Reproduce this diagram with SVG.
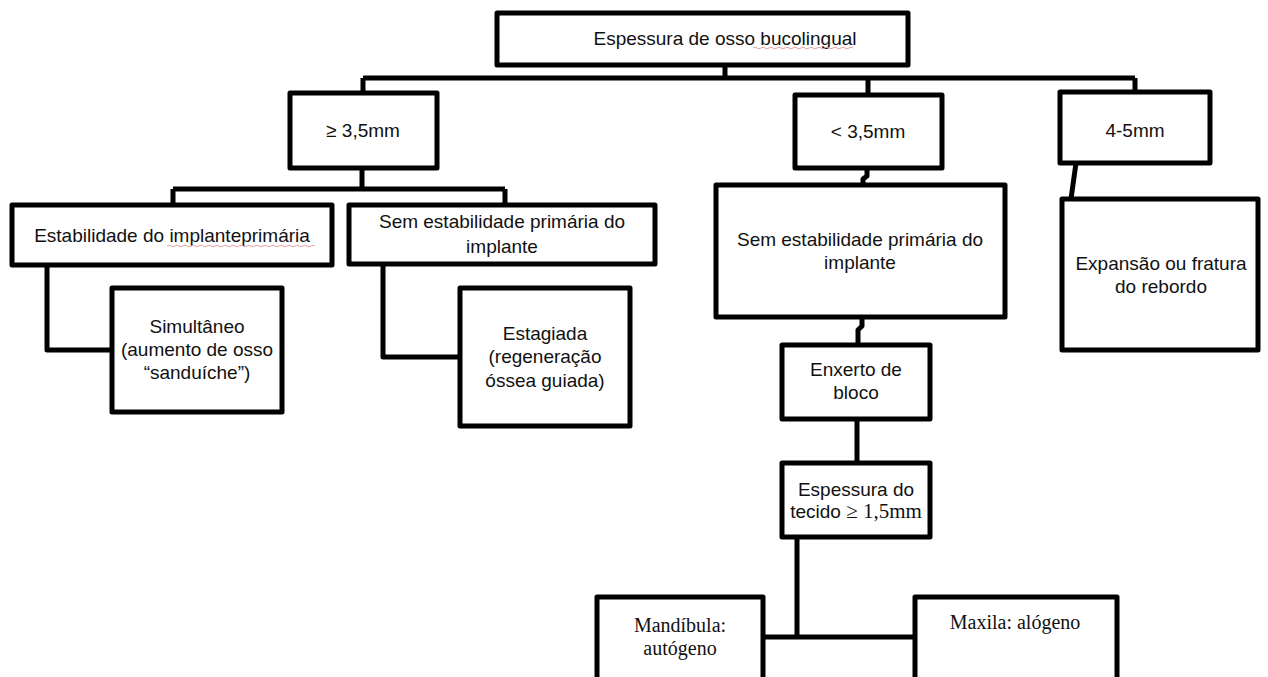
<svg xmlns="http://www.w3.org/2000/svg" width="1268" height="677" viewBox="0 0 1268 677">
<style>
.box{fill:#fff;stroke:#000;stroke-width:5;stroke-linejoin:round}
.ln{fill:none;stroke:#000;stroke-width:5;stroke-linejoin:round}
.t{font-family:"Liberation Sans",Arial,sans-serif;font-size:19px;fill:#111;text-anchor:middle}
.s{font-family:"Liberation Serif","Times New Roman",serif;font-size:20px;fill:#111;text-anchor:middle}
.sq{fill:none;stroke:#e8a3a3;stroke-width:1}
</style>
<rect width="1268" height="677" fill="#fff"/>
<g id="connectors">
<path class="ln" d="M725 65 V78 M363 78 H1135 M363 78 V93 M868 78 V95 M1135 78 V92"/>
<path class="ln" d="M362 168 V189 M173 189 H505 M173 189 V205 M505 189 V205"/>
<path class="ln" d="M47 265 V350 H112"/>
<path class="ln" d="M383 264 V357 H460"/>
<path class="ln" d="M867 168 V176 L863 179 V185"/>
<path class="ln" d="M1076 163 L1071 199"/>
<path class="ln" d="M862 317 V326 L858 330 V345"/>
<path class="ln" d="M857 419 V463"/>
<path class="ln" d="M797 537 V637 M763 637 H915"/>
</g>
<g id="n-root">
<rect class="box" x="497" y="13" width="411" height="52"/>
<text class="t" x="725" y="45">Espessura de osso bucolingual</text>
<path class="sq" d="M753 48 q2 -1.5 4 0 t4 0 t4 0 t4 0 t4 0 t4 0 t4 0 t4 0 t4 0 t4 0 t4 0 t4 0 t4 0 t4 0 t4 0 t4 0 t4 0 t4 0 t4 0 t4 0 t4 0 t4 0 t4 0 t4 0 t4 0"/>
</g>
<g id="n-ge35">
<rect class="box" x="290" y="93" width="147" height="75"/>
<text class="t" x="363" y="137">≥ 3,5mm</text>
</g>
<g id="n-lt35">
<rect class="box" x="795" y="95" width="147" height="73"/>
<text class="t" x="868" y="138">&lt; 3,5mm</text>
</g>
<g id="n-45">
<rect class="box" x="1060" y="92" width="150" height="71"/>
<text class="t" x="1135" y="137">4-5mm</text>
</g>
<g id="n-estab">
<rect class="box" x="12" y="205" width="320" height="60"/>
<text class="t" x="172" y="242">Estabilidade do implanteprimária</text>
<path class="sq" d="M167 246 q2 -1.5 4 0 t4 0 t4 0 t4 0 t4 0 t4 0 t4 0 t4 0 t4 0 t4 0 t4 0 t4 0 t4 0 t4 0 t4 0 t4 0 t4 0 t4 0 t4 0 t4 0 t4 0 t4 0 t4 0 t4 0 t4 0 t4 0 t4 0 t4 0 t4 0 t4 0 t4 0 t4 0 t4 0 t4 0 t4 0 t4 0 t4 0"/>
</g>
<g id="n-semL">
<rect class="box" x="349" y="205" width="306" height="59"/>
<text class="t" x="502" y="228">Sem estabilidade primária do</text>
<text class="t" x="502" y="253">implante</text>
</g>
<g id="n-simult">
<rect class="box" x="112" y="288" width="170" height="124"/>
<text class="t" x="197" y="333">Simultâneo</text>
<text class="t" x="197" y="356">(aumento de osso</text>
<text class="t" x="197" y="379">“sanduíche”)</text>
</g>
<g id="n-estag">
<rect class="box" x="460" y="288" width="170" height="138"/>
<text class="t" x="545" y="340">Estagiada</text>
<text class="t" x="545" y="363">(regeneração</text>
<text class="t" x="545" y="387">óssea guiada)</text>
</g>
<g id="n-semC">
<rect class="box" x="716" y="185" width="289" height="132"/>
<text class="t" x="860" y="246">Sem estabilidade primária do</text>
<text class="t" x="860" y="269">implante</text>
</g>
<g id="n-expansao">
<rect class="box" x="1062" y="199" width="196" height="151"/>
<text class="t" x="1161" y="270">Expansão ou fratura</text>
<text class="t" x="1161" y="293">do rebordo</text>
</g>
<g id="n-enxerto">
<rect class="box" x="782" y="345" width="148" height="74"/>
<text class="t" x="856" y="376">Enxerto de</text>
<text class="t" x="856" y="399">bloco</text>
</g>
<g id="n-tecido">
<rect class="box" x="782" y="463" width="148" height="74"/>
<text class="t" x="856" y="496">Espessura do</text>
<text x="856" y="518" class="t">tecido<tspan style="font-family:'Liberation Serif','Times New Roman',serif;font-size:21px"> ≥ 1,5mm</tspan></text>
</g>
<g id="n-mandibula">
<rect class="box" x="597" y="597" width="166" height="90"/>
<text class="s" x="680" y="632">Mandíbula:</text>
<text class="s" x="680" y="655">autógeno</text>
</g>
<g id="n-maxila">
<rect class="box" x="915" y="597" width="202" height="90"/>
<text class="s" x="1015" y="629">Maxila: alógeno</text>
</g>
</svg>
